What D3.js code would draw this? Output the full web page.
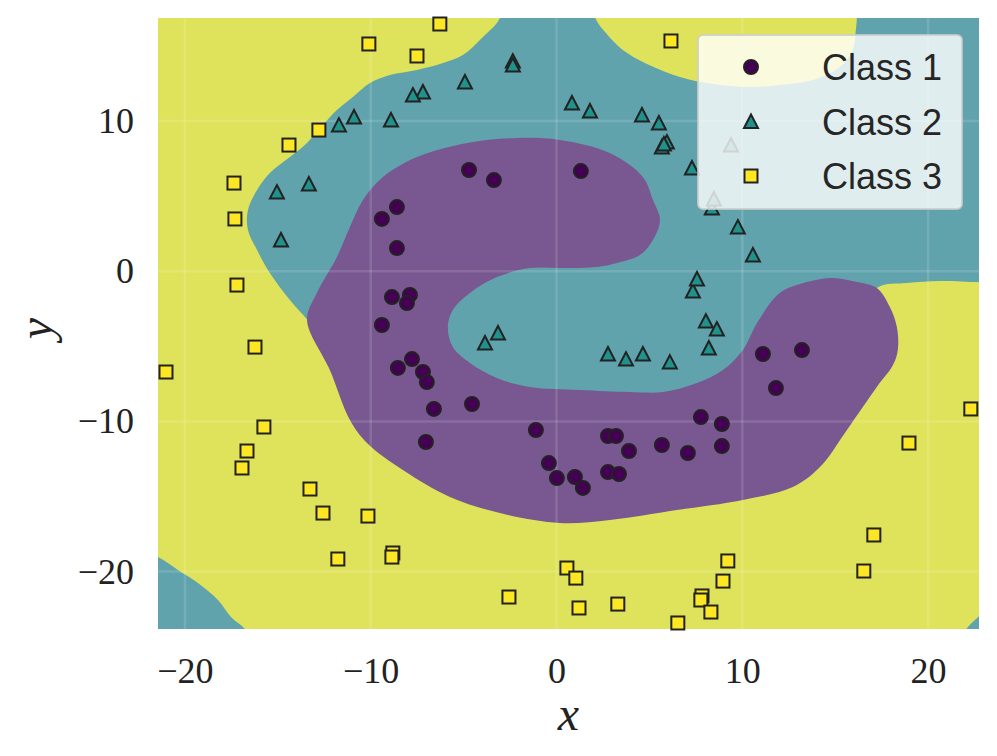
<!DOCTYPE html>
<html>
<head>
<meta charset="utf-8">
<script src="https://cdn.jsdelivr.net/npm/d3@7"></script>
<style>
  body { margin: 0; background: #fff; }
  svg { display: block; }
</style>
</head>
<body>
<div id="chart"></div>
<script>
// scatter points, [x, y]
var class1 = [
  [-4.71,6.74],[-3.37,6.07],[1.31,6.67],[-8.59,4.27],[-9.40,3.48],[-8.59,1.54],
  [-7.89,-1.58],[-8.86,-1.72],[-8.05,-2.12],[-9.40,-3.58],[-7.78,-5.85],[-8.54,-6.44],
  [-7.19,-6.71],[-6.98,-7.38],[-6.60,-9.17],[-4.55,-8.84],[-7.03,-11.37],[-1.11,-10.57],
  [-0.41,-12.77],[0.02,-13.77],[0.99,-13.70],[1.42,-14.43],[2.77,-10.97],[3.20,-10.97],
  [3.90,-11.97],[2.77,-13.37],[3.36,-13.50],[5.67,-11.57],[7.07,-12.10],[7.77,-9.71],
  [8.90,-10.17],[8.90,-11.64],[11.11,-5.51],[13.21,-5.25],[11.81,-7.78]
];
var class2 = [
  [-3.15,-4.11],[-3.85,-4.78],[2.77,-5.51],[3.74,-5.85],[4.65,-5.51],[6.10,-6.05],
  [8.20,-5.11],[8.04,-3.32],[8.63,-3.85],[7.34,-1.32],[7.56,-0.52],[8.36,4.21],
  [8.47,4.81],[9.76,2.94],[10.57,1.08],[7.29,6.87],[9.39,8.40],[5.51,9.87],
  [4.60,10.40],[5.67,8.27],[5.94,8.60],[5.78,8.47],[0.83,11.20],[1.80,10.67],
  [-2.35,13.99],[-2.35,13.73],[-4.93,12.60],[-7.19,11.93],[-7.73,11.73],[-8.91,10.07],
  [-10.90,10.27],[-11.71,9.73],[-13.33,5.81],[-15.05,5.27],[-14.83,2.08]
];
var class3 = [
  [-6.28,16.46],[-10.10,15.13],[-7.51,14.33],[6.16,15.33],[-12.79,9.40],[-14.40,8.40],
  [-17.36,5.87],[-17.31,3.48],[-17.20,-0.92],[-16.23,-5.05],[-21.02,-6.71],[-15.75,-10.37],
  [-16.66,-11.97],[-16.93,-13.10],[-13.27,-14.50],[-12.57,-16.10],[-10.15,-16.30],[-11.77,-19.16],
  [-8.81,-18.76],[-8.86,-19.03],[-2.56,-21.69],[0.56,-19.76],[1.04,-20.43],[1.21,-22.42],
  [3.30,-22.16],[6.53,-23.42],[7.83,-21.62],[7.77,-21.89],[8.31,-22.69],[8.96,-20.63],
  [9.22,-19.29],[16.54,-19.96],[17.08,-17.56],[18.97,-11.44],[22.30,-9.17]
];

// decision region outlines, [x, y]
var tealBand = [
  [-3.05,16.86],[-3.96,15.59],[-5.04,14.39],[-6.11,13.86],[-7.51,13.40],[-8.97,13.06],
  [-10.04,12.53],[-10.96,11.60],[-11.82,10.73],[-12.57,9.73],[-13.43,8.54],[-14.35,7.60],
  [-15.43,6.54],[-16.12,5.41],[-16.61,4.07],[-16.61,2.74],[-16.12,1.41],[-15.43,-0.12],
  [-14.35,-1.92],[-13.54,-3.05],[-10,-8],[0,-12],[10,-10],[15,-5],[17.24,-1.12],
  [18.86,-0.79],[20.64,-0.65],[22.73,-0.72],[24,-0.7],[24,18.5],[-2.9,18.5]
];
var yellowTop = [
  [2.0,18.5],[2.07,16.92],[2.71,15.79],[3.57,14.73],[4.87,13.79],[6.64,12.93],[8.42,12.46],
  [10.25,12.26],[12.02,12.40],[13.80,12.73],[15.25,13.60],[15.95,14.73],[16.11,16.06],
  [16.17,16.92],[16.2,18.5]
];
var purpleRegion = [
  [2.87,7.87],[4.65,6.27],[5.19,4.74],[5.57,3.41],[5.19,2.08],[4.49,1.08],[3.25,0.55],
  [2.17,0.28],[0.34,0.21],[-1.43,0.21],[-3.21,-0.39],[-4.66,-1.45],[-5.58,-2.58],
  [-5.85,-3.72],[-5.58,-5.05],[-4.66,-6.11],[-3.21,-7.11],[-1.43,-7.71],[1.26,-7.91],
  [3.95,-8.04],[5.73,-8.04],[7.56,-7.44],[8.96,-6.58],[10.03,-5.25],[10.79,-3.45],
  [12.02,-1.45],[13.48,-0.72],[14.88,-0.45],[16.17,-0.72],[17.24,-1.12],[17.94,-2.38],
  [18.32,-3.72],[18.37,-5.25],[18.11,-6.25],[17.24,-7.71],[15.63,-10.57],[14.18,-13.04],
  [12.72,-14.37],[10.03,-15.23],[6.48,-15.90],[2.87,-16.56],[0.18,-16.76],[-3.05,-16.10],
  [-5.74,-15.03],[-8.27,-13.24],[-10.20,-11.44],[-11.12,-9.91],[-12.20,-6.58],[-13.43,-3.25],
  [-12.90,-1.45],[-11.82,0.95],[-11.12,2.94],[-10.42,4.74],[-9.34,6.27],[-7.51,7.60],
  [-4.82,8.54],[-2.13,8.87],[0.18,8.74]
];
var tealCornerLeft = [
  [-23,-18.4],[-21.45,-19.03],[-20.38,-19.89],[-19.30,-20.76],[-18.22,-21.89],
  [-17.52,-23.02],[-16.77,-23.82],[-16.2,-25],[-23,-25]
];
var tealCornerRight = [
  [21.5,-25],[22.09,-23.77],[22.68,-23.04],[23.5,-22.2],[23.5,-25]
];

var xTicks = [-20, -10, 0, 10, 20];
var yTicks = [-20, -10, 0, 10];
var classNames = ["Class 1", "Class 2", "Class 3"];

var classColors = ["#440154", "#21918c", "#fde725"];
var regionColors = {yellow: "#dfe35b", teal: "#61a3ad", purple: "#795891"};

var W = 997, H = 756;
var plot = {left: 158, right: 979, top: 18, bottom: 629};

var svg = d3.select("#chart").append("svg")
  .attr("width", W)
  .attr("height", H);

var x = d3.scaleLinear().domain([-21.45, 22.74]).range([plot.left, plot.right]);
var y = d3.scaleLinear().domain([-23.82, 16.86]).range([plot.bottom, plot.top]);

svg.append("clipPath").attr("id", "clip")
  .append("rect")
  .attr("x", plot.left).attr("y", plot.top)
  .attr("width", plot.right - plot.left).attr("height", plot.bottom - plot.top);

var regions = svg.append("g").attr("clip-path", "url(#clip)");

var area = d3.line()
  .x(function(d) { return x(d[0]); })
  .y(function(d) { return y(d[1]); })
  .curve(d3.curveCatmullRomClosed.alpha(0.5));

regions.append("rect")
  .attr("x", plot.left).attr("y", plot.top)
  .attr("width", plot.right - plot.left).attr("height", plot.bottom - plot.top)
  .attr("fill", regionColors.yellow);

regions.append("path").attr("d", area(tealBand)).attr("fill", regionColors.teal);
regions.append("path").attr("d", area(yellowTop)).attr("fill", regionColors.yellow);
regions.append("path").attr("d", area(purpleRegion)).attr("fill", regionColors.purple);
regions.append("path").attr("d", area(tealCornerLeft)).attr("fill", regionColors.teal);
regions.append("path").attr("d", area(tealCornerRight)).attr("fill", regionColors.teal);

// faint grid showing through the filled regions
var grid = svg.append("g").attr("stroke", "#fff").attr("stroke-opacity", 0.13).attr("stroke-width", 2.5);
grid.selectAll(".gx").data(xTicks).enter().append("line")
  .attr("x1", function(d) { return x(d); }).attr("x2", function(d) { return x(d); })
  .attr("y1", plot.top).attr("y2", plot.bottom);
grid.selectAll(".gy").data(yTicks).enter().append("line")
  .attr("y1", function(d) { return y(d); }).attr("y2", function(d) { return y(d); })
  .attr("x1", plot.left).attr("x2", plot.right);

// axes, labels only
var xAxis = svg.append("g")
  .attr("transform", "translate(0," + plot.bottom + ")")
  .call(d3.axisBottom(x).tickValues(xTicks).tickSize(0).tickPadding(28));
var yAxis = svg.append("g")
  .attr("transform", "translate(" + plot.left + ",0)")
  .call(d3.axisLeft(y).tickValues(yTicks).tickSize(0).tickPadding(24));
[xAxis, yAxis].forEach(function(a) {
  a.select(".domain").remove();
  a.selectAll("text")
    .style("font-family", "'Liberation Serif', 'DejaVu Serif', serif")
    .style("font-size", "36px")
    .attr("fill", "#222");
});

svg.append("text")
  .attr("x", (plot.left + plot.right) / 2)
  .attr("y", 730)
  .attr("text-anchor", "middle")
  .style("font-family", "'Liberation Serif', serif")
  .style("font-style", "italic")
  .style("font-size", "48px")
  .attr("fill", "#222")
  .text("x");

svg.append("text")
  .attr("transform", "translate(52," + ((plot.top + plot.bottom) / 2 + 5) + ") rotate(-90)")
  .attr("text-anchor", "middle")
  .style("font-family", "'Liberation Serif', serif")
  .style("font-style", "italic")
  .style("font-size", "48px")
  .attr("fill", "#222")
  .text("y");

// markers
function marker(sel, k) {
  if (k == 0) {
    sel.append("circle").attr("r", 7);
  } else if (k == 1) {
    sel.append("path").attr("d", "M0,-7L7,6.5L-7,6.5Z");
  } else {
    sel.append("rect").attr("x", -6.5).attr("y", -6.5).attr("width", 13).attr("height", 13);
  }
}

var series = [class1, class2, class3];
var pts = svg.append("g");
series.forEach(function(data, k) {
  var g = pts.append("g")
    .attr("fill", classColors[k])
    .attr("stroke", "#222")
    .attr("stroke-width", 2);
  g.selectAll("g").data(data).enter().append("g")
    .attr("transform", function(d) { return "translate(" + x(d[0]) + "," + y(d[1]) + ")"; })
    .each(function() { marker(d3.select(this), k); });
});

// legend
var legend = svg.append("g");
legend.append("rect")
  .attr("x", 698).attr("y", 35)
  .attr("width", 264).attr("height", 174)
  .attr("rx", 5)
  .attr("fill", "#fff").attr("fill-opacity", 0.8)
  .attr("stroke", "#ccc").attr("stroke-opacity", 0.8).attr("stroke-width", 2);

classNames.forEach(function(name, k) {
  var row = legend.append("g").attr("transform", "translate(0," + (67 + k * 54.5) + ")");
  var m = row.append("g")
    .attr("transform", "translate(751,0)")
    .attr("fill", classColors[k])
    .attr("stroke", "#222")
    .attr("stroke-width", 2);
  marker(m, k);
  row.append("text")
    .attr("x", 822)
    .attr("y", 13)
    .style("font-family", "'Liberation Sans', Arial, sans-serif")
    .style("font-size", "36px")
    .attr("fill", "#262626")
    .text(name);
});
</script>
</body>
</html>
